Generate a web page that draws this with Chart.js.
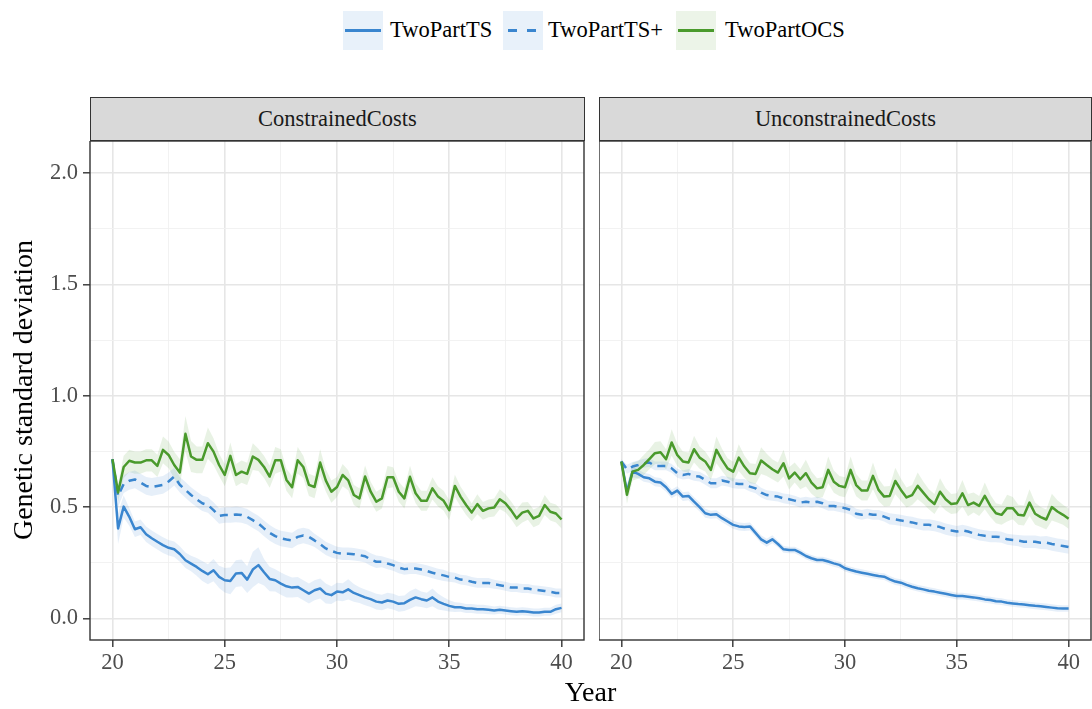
<!DOCTYPE html>
<html>
<head>
<meta charset="utf-8">
<script src="https://cdn.jsdelivr.net/npm/chart.js@4.4.1/dist/chart.umd.min.js"></script>
<style>
  html, body { margin: 0; padding: 0; background: #fff; }
  body { width: 1092px; height: 709px; position: relative; overflow: hidden; font-family: 'Liberation Serif', 'Times New Roman', serif; }
  .abs { position: absolute; }
  .key { position: absolute; top: 11px; width: 40px; height: 39px; }
  .ltxt { position: absolute; top: 19px; font-size: 22.5px; line-height: 22.5px; color: #000; white-space: nowrap; }
  .strip { position: absolute; top: 97px; height: 44px; background: #d9d9d9; border: 1.4px solid #333; box-sizing: border-box; text-align: center; font-size: 22.5px; line-height: 41px; color: #1a1a1a; }
</style>
</head>
<body>
<!-- legend -->
<div class="key" style="left:343px;background:#e8f1fa;">
  <div class="abs" style="left:2px;width:36px;top:18px;height:2.6px;background:#3a86cf;"></div>
</div>
<div class="ltxt" style="left:390px;">TwoPartTS</div>
<div class="key" style="left:503px;background:#e8f1fa;">
  <div class="abs" style="left:5px;width:9px;top:18px;height:2.6px;background:#3a86cf;"></div>
  <div class="abs" style="left:24px;width:9px;top:18px;height:2.6px;background:#3a86cf;"></div>
</div>
<div class="ltxt" style="left:548px;">TwoPartTS+</div>
<div class="key" style="left:676px;background:#ecf4e8;">
  <div class="abs" style="left:2px;width:36px;top:18px;height:2.6px;background:#4a9a2c;"></div>
</div>
<div class="ltxt" style="left:725px;">TwoPartOCS</div>

<!-- strips -->
<div class="strip" style="left:90px;width:495px;">ConstrainedCosts</div>
<div class="strip" style="left:599px;width:493px;">UnconstrainedCosts</div>

<!-- charts -->
<div class="abs" style="left:0;top:141px;width:588px;height:568px;"><canvas id="c1" width="588" height="568"></canvas></div>
<div class="abs" style="left:599px;top:141px;width:493px;height:568px;"><canvas id="c2" width="493" height="568"></canvas></div>

<!-- axis titles -->
<div class="abs" style="left:90px;width:1001px;top:678px;text-align:center;font-size:28px;line-height:28px;color:#000;">Year</div>
<div class="abs" style="left:-177px;top:376px;width:400px;height:28px;text-align:center;font-size:28px;line-height:28px;color:#000;transform:rotate(-90deg);">Genetic standard deviation</div>

<script>
// ---------- data ----------
const years = [20,20.25,20.5,20.75,21,21.25,21.5,21.75,22,22.25,22.5,22.75,23,23.25,23.5,23.75,24,24.25,24.5,24.75,25,25.25,25.5,25.75,26,26.25,26.5,26.75,27,27.25,27.5,27.75,28,28.25,28.5,28.75,29,29.25,29.5,29.75,30,30.25,30.5,30.75,31,31.25,31.5,31.75,32,32.25,32.5,32.75,33,33.25,33.5,33.75,34,34.25,34.5,34.75,35,35.25,35.5,35.75,36,36.25,36.5,36.75,37,37.25,37.5,37.75,38,38.25,38.5,38.75,39,39.25,39.5,39.75,40];

const seriesNames = ['TwoPartTS', 'TwoPartTS+', 'TwoPartOCS'];
const panelNames = ['ConstrainedCosts', 'UnconstrainedCosts'];

const xTickValues = [20,22.5,25,27.5,30,32.5,35,37.5,40];
const xTickLabels = ['20','','25','','30','','35','','40'];
const yTickValues = [0,0.25,0.5,0.75,1,1.25,1.5,1.75,2];
const yTickLabels = ['0.0','','0.5','','1.0','','1.5','','2.0'];

// ConstrainedCosts
const conTS = [0.715,0.404,0.502,0.456, 0.40,0.409,0.378,0.36, 0.344,0.329,0.317,0.31, 0.289,0.261,0.246,0.231, 0.213,0.198,0.216,0.186, 0.171,0.168,0.201,0.204, 0.174,0.219,0.239,0.207, 0.177,0.171,0.156,0.144, 0.138,0.141,0.126,0.111, 0.126,0.134,0.111,0.104, 0.12,0.117,0.13,0.114, 0.104,0.094,0.086,0.075, 0.071,0.08,0.075,0.065, 0.068,0.083,0.094,0.086, 0.08,0.094,0.075,0.065, 0.056,0.05,0.05,0.044, 0.044,0.041,0.041,0.038, 0.035,0.038,0.035,0.032, 0.029,0.032,0.029,0.026, 0.026,0.029,0.029,0.041, 0.047];
const conTSse = [0.01,0.07,0.05,0.04, 0.035,0.035,0.035,0.035, 0.035,0.035,0.035,0.035, 0.035,0.035,0.035,0.04, 0.045,0.045,0.05,0.05, 0.055,0.06,0.06,0.06, 0.06,0.08,0.08,0.06, 0.055,0.05,0.05,0.05, 0.045,0.045,0.045,0.045, 0.045,0.045,0.045,0.04, 0.04,0.04,0.045,0.04, 0.035,0.035,0.035,0.035, 0.035,0.035,0.035,0.035, 0.035,0.04,0.04,0.035, 0.035,0.04,0.035,0.03, 0.025,0.022,0.02,0.02, 0.02,0.02,0.02,0.02, 0.018,0.018,0.018,0.018, 0.018,0.018,0.018,0.018, 0.018,0.018,0.018,0.02, 0.02];
const conTSP = [0.715,0.55,0.603,0.618, 0.624,0.61,0.595,0.59, 0.595,0.60,0.615,0.637, 0.60,0.577,0.554,0.535, 0.517,0.509,0.486,0.46, 0.464,0.464,0.467,0.464, 0.456,0.441,0.426,0.404, 0.384,0.369,0.359,0.354, 0.35,0.366,0.372,0.366, 0.35,0.333,0.314,0.303, 0.294,0.29,0.29,0.288, 0.284,0.279,0.264,0.254, 0.254,0.246,0.239,0.228, 0.221,0.224,0.224,0.219, 0.213,0.205,0.198,0.193, 0.186,0.183,0.174,0.171, 0.164,0.159,0.159,0.159, 0.153,0.149,0.144,0.138, 0.138,0.134,0.134,0.129, 0.126,0.123,0.119,0.114, 0.114];
const conTSPse = [0.01,0.05,0.04,0.04, 0.04,0.04,0.04,0.04, 0.04,0.04,0.04,0.04, 0.035,0.035,0.035,0.035, 0.035,0.035,0.035,0.035, 0.035,0.035,0.035,0.035, 0.035,0.035,0.035,0.035, 0.035,0.035,0.035,0.035, 0.035,0.035,0.035,0.035, 0.03,0.03,0.03,0.03, 0.028,0.028,0.028,0.028, 0.028,0.028,0.028,0.028, 0.025,0.025,0.025,0.025, 0.025,0.025,0.025,0.025, 0.025,0.025,0.025,0.025, 0.022,0.022,0.022,0.022, 0.022,0.022,0.022,0.022, 0.02,0.02,0.02,0.02, 0.02,0.02,0.02,0.02, 0.02,0.02,0.02,0.02, 0.02];
const conOCS = [0.715,0.565,0.68,0.708, 0.70,0.70,0.71,0.71, 0.685,0.757,0.734,0.689, 0.655,0.829,0.727,0.712, 0.712,0.787,0.749,0.689, 0.644,0.73,0.644,0.659, 0.649,0.727,0.712,0.68, 0.637,0.71,0.71,0.622, 0.589,0.71,0.68,0.60, 0.59,0.70,0.62,0.569, 0.59,0.644,0.62,0.554, 0.539,0.637,0.569,0.524, 0.539,0.634,0.634,0.569, 0.539,0.636,0.562,0.528, 0.528,0.584,0.547,0.528, 0.486,0.595,0.547,0.509, 0.476,0.513,0.483,0.494, 0.498,0.535,0.517,0.486, 0.449,0.475,0.483,0.449, 0.46,0.509,0.479,0.471, 0.444];
const conOCSse = [0.01,0.04,0.05,0.05, 0.05,0.05,0.05,0.05, 0.05,0.06,0.06,0.06, 0.06,0.08,0.07,0.06, 0.06,0.07,0.06,0.05, 0.05,0.06,0.05,0.05, 0.05,0.06,0.05,0.05, 0.05,0.06,0.05,0.05, 0.05,0.06,0.05,0.05, 0.05,0.06,0.05,0.05, 0.045,0.05,0.045,0.045, 0.045,0.05,0.045,0.045, 0.045,0.05,0.045,0.045, 0.045,0.05,0.045,0.045, 0.045,0.05,0.045,0.045, 0.045,0.05,0.045,0.045, 0.04,0.045,0.04,0.04, 0.04,0.045,0.04,0.04, 0.04,0.045,0.04,0.04, 0.04,0.045,0.04,0.04, 0.04];

// UnconstrainedCosts
const uncTS = [0.705,0.57,0.659,0.649, 0.634,0.629,0.614,0.61, 0.589,0.559,0.574,0.547, 0.55,0.524,0.50,0.472, 0.465,0.468,0.45,0.435, 0.42,0.413,0.41,0.413, 0.384,0.355,0.34,0.355, 0.334,0.31,0.307,0.307, 0.295,0.28,0.27,0.262, 0.262,0.255,0.247,0.24, 0.225,0.217,0.21,0.205, 0.20,0.195,0.19,0.187, 0.175,0.165,0.16,0.15, 0.142,0.135,0.13,0.124, 0.12,0.115,0.11,0.105, 0.10,0.10,0.097,0.094, 0.09,0.085,0.082,0.077, 0.075,0.07,0.067,0.064, 0.062,0.059,0.056,0.054, 0.051,0.048,0.045,0.044, 0.044];
const uncTSse = [0.01,0.03,0.025,0.02, 0.02,0.02,0.02,0.02, 0.02,0.02,0.02,0.02, 0.02,0.02,0.02,0.02, 0.018,0.018,0.018,0.018, 0.018,0.018,0.018,0.018, 0.018,0.018,0.018,0.018, 0.015,0.015,0.015,0.015, 0.015,0.015,0.015,0.015, 0.015,0.015,0.015,0.015, 0.015,0.015,0.015,0.015, 0.015,0.015,0.015,0.015, 0.015,0.015,0.015,0.015, 0.015,0.015,0.015,0.015, 0.015,0.015,0.015,0.015, 0.015,0.015,0.015,0.015, 0.015,0.015,0.015,0.015, 0.015,0.015,0.015,0.015, 0.015,0.015,0.015,0.015, 0.015,0.015,0.015,0.015, 0.015];
const uncTSP = [0.705,0.67,0.682,0.689, 0.697,0.70,0.685,0.685, 0.685,0.674,0.652,0.644, 0.649,0.64,0.637,0.622, 0.607,0.607,0.619,0.614, 0.607,0.604,0.604,0.592, 0.584,0.565,0.554,0.55, 0.547,0.539,0.535,0.529, 0.52,0.524,0.52,0.524, 0.517,0.505,0.505,0.50, 0.495,0.487,0.47,0.465, 0.47,0.465,0.465,0.457, 0.447,0.444,0.44,0.435, 0.431,0.425,0.42,0.42, 0.416,0.41,0.401,0.395, 0.39,0.395,0.39,0.382, 0.375,0.371,0.367,0.367, 0.364,0.355,0.352,0.349, 0.344,0.344,0.344,0.34, 0.34,0.334,0.329,0.325, 0.32];
const uncTSPse = [0.01,0.02,0.02,0.02, 0.02,0.02,0.02,0.02, 0.02,0.02,0.02,0.02, 0.022,0.022,0.022,0.022, 0.022,0.022,0.022,0.022, 0.022,0.022,0.022,0.022, 0.022,0.022,0.022,0.022, 0.022,0.022,0.022,0.022, 0.022,0.022,0.022,0.022, 0.022,0.022,0.022,0.022, 0.022,0.022,0.022,0.022, 0.022,0.022,0.022,0.022, 0.025,0.025,0.025,0.025, 0.025,0.025,0.025,0.025, 0.025,0.025,0.025,0.025, 0.025,0.025,0.025,0.025, 0.025,0.025,0.025,0.025, 0.025,0.025,0.025,0.025, 0.028,0.028,0.028,0.028, 0.03,0.03,0.03,0.03, 0.03];
const uncOCS = [0.705,0.555,0.659,0.667, 0.689,0.715,0.742,0.746, 0.715,0.79,0.734,0.705, 0.70,0.76,0.722,0.705, 0.667,0.757,0.712,0.674, 0.659,0.722,0.682,0.652, 0.649,0.709,0.689,0.67, 0.655,0.697,0.629,0.655, 0.625,0.652,0.61,0.584, 0.589,0.667,0.614,0.595, 0.589,0.667,0.599,0.574, 0.574,0.64,0.577,0.547, 0.55,0.617,0.577,0.543, 0.554,0.595,0.565,0.535, 0.514,0.569,0.535,0.514, 0.517,0.562,0.509,0.52, 0.505,0.55,0.505,0.472, 0.465,0.495,0.495,0.465, 0.462,0.52,0.47,0.455, 0.444,0.50,0.48,0.465, 0.447];
const uncOCSse = [0.01,0.04,0.04,0.04, 0.045,0.045,0.05,0.05, 0.045,0.06,0.05,0.045, 0.045,0.06,0.05,0.045, 0.045,0.06,0.05,0.045, 0.045,0.06,0.05,0.045, 0.045,0.06,0.05,0.045, 0.045,0.06,0.05,0.045, 0.045,0.06,0.05,0.045, 0.045,0.06,0.05,0.045, 0.045,0.06,0.05,0.045, 0.045,0.06,0.05,0.045, 0.045,0.06,0.05,0.045, 0.045,0.06,0.05,0.045, 0.045,0.06,0.05,0.045, 0.045,0.06,0.05,0.045, 0.045,0.06,0.05,0.045, 0.045,0.06,0.05,0.045, 0.045,0.06,0.05,0.045, 0.045,0.06,0.05,0.045, 0.045];

// ---------- styling ----------
const BLUE = '#3a86cf', GREEN = '#4a9a2c';
const BLUE_R = 'rgba(58,134,207,0.13)', GREEN_R = 'rgba(74,154,44,0.13)';
const FONT = "'Liberation Serif', 'Times New Roman', serif";

function pts(arr) { return years.map((x, i) => ({ x: x, y: arr[i] })); }
function band(arr, se, sign) { return years.map((x, i) => ({ x: x, y: arr[i] + sign * se[i] })); }

function makeDatasets(ts, tsSe, tsp, tspSe, ocs, ocsSe) {
  const rib = (mean, se, col, idx) => [
    { data: band(mean, se, -1), borderWidth: 0, borderColor: 'rgba(0,0,0,0)', pointRadius: 0, fill: false, order: 10 },
    { data: band(mean, se, 1), borderWidth: 0, borderColor: 'rgba(0,0,0,0)', pointRadius: 0, fill: idx, backgroundColor: col, order: 10 }
  ];
  const line = (mean, col, dash, ord, label) => ({ label: label, data: pts(mean), borderColor: col, borderWidth: 2.5, borderDash: dash, pointRadius: 0, fill: false, order: ord, borderJoinStyle: 'round', tension: 0 });
  return [
    ...rib(ts, tsSe, BLUE_R, 0),
    ...rib(tsp, tspSe, BLUE_R, 2),
    ...rib(ocs, ocsSe, GREEN_R, 4),
    line(ts, BLUE, [], 3, seriesNames[0]),
    line(tsp, BLUE, [8, 6], 2, seriesNames[1]),
    line(ocs, GREEN, [], 1, seriesNames[2])
  ];
}

const borderPlugin = {
  id: 'panelBorder',
  afterDraw(chart) {
    const a = chart.chartArea, c = chart.ctx;
    c.save();
    c.strokeStyle = '#333';
    c.lineWidth = 1.4;
    c.strokeRect(a.left, a.top, a.right - a.left, a.bottom - a.top);
    c.restore();
  }
};

const isMajorX = v => xTickLabels[xTickValues.indexOf(v)] !== '';
const isMajorY = v => yTickLabels[yTickValues.indexOf(v)] !== '';

function makeConfig(datasets, showY, padRight) {
  return {
    type: 'line',
    data: { datasets: datasets },
    plugins: [borderPlugin],
    options: {
      responsive: false,
      animation: false,
      devicePixelRatio: 1,
      layout: { padding: { left: 0, right: padRight, top: 0, bottom: 0 }, autoPadding: false },
      plugins: { legend: { display: false }, tooltip: { enabled: false }, filler: { drawTime: 'beforeDatasetsDraw' } },
      scales: {
        x: {
          type: 'linear', min: 19, max: 41,
          afterBuildTicks: s => { s.ticks = xTickValues.map(v => ({ value: v })); },
          afterFit: s => { s.height = 69; s.paddingLeft = 0; s.paddingRight = 0; s.paddingTop = 0; s.paddingBottom = 0; },
          border: { display: false },
          grid: {
            color: ctx => isMajorX(ctx.tick.value) ? '#e6e6e6' : '#f1f1f1',
            lineWidth: ctx => isMajorX(ctx.tick.value) ? 1.6 : 0.9,
            tickColor: ctx => isMajorX(ctx.tick.value) ? '#333' : 'rgba(0,0,0,0)',
            tickWidth: 1.4,
            tickLength: 7,
            drawTicks: true
          },
          ticks: {
            autoSkip: false, maxRotation: 0, padding: 3,
            color: '#4d4d4d', font: { family: FONT, size: 22.5 },
            callback: (v) => { const i = xTickValues.indexOf(v); return i >= 0 ? xTickLabels[i] : ''; }
          }
        },
        y: {
          type: 'linear', min: -0.0975, max: 2.145,
          afterBuildTicks: s => { s.ticks = yTickValues.map(v => ({ value: v })); },
          afterFit: s => { s.width = showY ? 90 : 0; s.paddingTop = 0; s.paddingBottom = 0; s.paddingLeft = 0; s.paddingRight = 0; },
          border: { display: false },
          grid: {
            color: ctx => isMajorY(ctx.tick.value) ? '#e6e6e6' : '#f1f1f1',
            lineWidth: ctx => isMajorY(ctx.tick.value) ? 1.6 : 0.9,
            tickColor: ctx => isMajorY(ctx.tick.value) ? '#333' : 'rgba(0,0,0,0)',
            tickWidth: 1.4,
            tickLength: 7,
            drawTicks: showY
          },
          ticks: {
            display: showY, autoSkip: false, padding: 5,
            color: '#4d4d4d', font: { family: FONT, size: 22.5 },
            callback: (v) => { const i = yTickValues.indexOf(v); return i >= 0 ? yTickLabels[i] : ''; }
          }
        }
      }
    }
  };
}

new Chart(document.getElementById('c1'), makeConfig(makeDatasets(conTS, conTSse, conTSP, conTSPse, conOCS, conOCSse), true, 4));
new Chart(document.getElementById('c2'), makeConfig(makeDatasets(uncTS, uncTSse, uncTSP, uncTSPse, uncOCS, uncOCSse), false, 1));
</script>
</body>
</html>
